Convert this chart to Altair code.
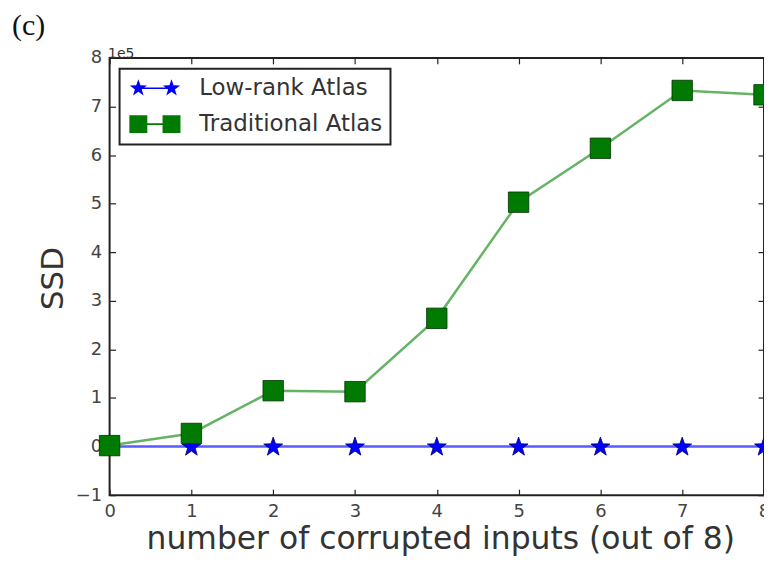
import math
import altair as alt
import pandas as pd

# ---- data ----
x_vals = [0, 1, 2, 3, 4, 5, 6, 7, 8]
low_rank = [0.0, 0.0, 0.0, 0.0, 0.0, 0.0, 0.0, 0.0, 0.0]          # x 1e5
traditional = [0.02, 0.27, 1.15, 1.13, 2.64, 5.03, 6.14, 7.33, 7.24]  # x 1e5
series_names = ["Low-rank Atlas", "Traditional Atlas"]
x_ticks = [0, 1, 2, 3, 4, 5, 6, 7, 8]
y_ticks = [-1, 0, 1, 2, 3, 4, 5, 6, 7, 8]

df = pd.DataFrame({
    "x": x_vals * 2,
    "y": low_rank + traditional,
    "series": [series_names[0]] * len(x_vals) + [series_names[1]] * len(x_vals),
})


# ---- marker glyph shapes ----
def star_path(cx, cy, R=1.0, r=0.4):
    pts = []
    for i in range(10):
        a = -math.pi / 2 + i * math.pi / 5
        rad = R if i % 2 == 0 else r
        pts.append((cx + rad * math.cos(a), cy + rad * math.sin(a)))
    s = "M%.3f,%.3f" % pts[0]
    for p in pts[1:]:
        s += "L%.3f,%.3f" % p
    return s + "Z"


def rect_path(x0, y0, x1, y1):
    return "M%.3f,%.3fL%.3f,%.3fL%.3f,%.3fL%.3f,%.3fZ" % (x0, y0, x1, y0, x1, y1, x0, y1)


star_marker = star_path(0, 0.05)
c = 1.85
star_glyph = star_path(-c, 0) + rect_path(-c, -0.09, c, 0.09) + star_path(c, 0)
square_glyph = rect_path(-c - 1, -1, -c + 1, 1) + rect_path(-c, -0.09, c, 0.09) + rect_path(c - 1, -1, c + 1, 1)

xs = alt.Scale(domain=[0, 8], nice=False, zero=False)
ys = alt.Scale(domain=[-1, 8], nice=False, zero=False)

TICK = dict(tickSize=6, offset=-6, tickColor="#222", tickWidth=1.2, domain=False, grid=False)
LBL = dict(labelFont="DejaVu Sans", labelFontSize=18, labelColor="#444")
TTL = dict(titleFont="DejaVu Sans", titleFontWeight="normal", titleColor="#333")

ax_x = alt.Axis(values=x_ticks, format="d", orient="bottom", labelPadding=7, labelFlush=False,
                title="number of corrupted inputs (out of 8)", titleFontSize=31.5,
                titleX=332, titleY=60, titleAnchor="middle", titleAlign="center",
                titleBaseline="alphabetic", **TICK, **LBL, **TTL)
ax_y = alt.Axis(values=y_ticks, format="d", orient="left", labelPadding=8,
                title="SSD", titleFontSize=31, titleX=-62, titleY=221, titleAngle=-90,
                titleAlign="center", titleBaseline="middle", **TICK, **LBL, **TTL)
ax_x_top = alt.Axis(values=x_ticks, orient="top", labels=False, title="1e5", titleFontSize=14,
                    titleX=-2, titleY=-6, titleAlign="left", titleAnchor="start",
                    titleBaseline="alphabetic", **TICK, **TTL)
ax_y_right = alt.Axis(values=y_ticks, orient="right", labels=False, title=None, **TICK)

base = alt.Chart(df)
low = base.transform_filter(alt.datum.series == series_names[0])
trad = base.transform_filter(alt.datum.series == series_names[1])

blue_line = low.mark_line(color="#0000ff", strokeWidth=2.5, opacity=0.65).encode(
    x=alt.X("x:Q", scale=xs, axis=ax_x),
    y=alt.Y("y:Q", scale=ys, axis=ax_y),
)
blue_pts = low.mark_point(shape=star_marker, filled=True, size=400, color="#0000ff", opacity=1,
                          stroke="#000066", strokeWidth=0.8).encode(
    x=alt.X("x:Q", scale=xs, axis=None),
    y=alt.Y("y:Q", scale=ys, axis=None),
)
green_line = trad.mark_line(color="#008000", strokeWidth=2.5, opacity=0.6).encode(
    x=alt.X("x:Q", scale=xs, axis=ax_x_top),
    y=alt.Y("y:Q", scale=ys, axis=ax_y_right),
)
green_pts = trad.mark_point(shape="square", filled=True, size=420, color="#007a00", opacity=1,
                            stroke="#003300", strokeWidth=0.8).encode(
    x=alt.X("x:Q", scale=xs, axis=None),
    y=alt.Y("y:Q", scale=ys, axis=None),
)
legend_layer = base.transform_filter(alt.datum.x < -100).mark_point(
    filled=True, size=324, opacity=1).encode(
    color=alt.Color("series:N", scale=alt.Scale(domain=series_names, range=["#0000ff", "#007a00"]),
                    legend=alt.Legend(title=None)),
    shape=alt.Shape("series:N", scale=alt.Scale(domain=series_names, range=[star_glyph, square_glyph]),
                    legend=alt.Legend(title=None)),
)

chart = alt.layer(blue_line, blue_pts, green_line, green_pts, legend_layer).resolve_axis(
    x="independent", y="independent"
).properties(
    width=657, height=439,
    autosize=alt.AutoSizeParams(type="none"),
    padding={"left": 102, "top": 49, "right": 0, "bottom": 62},
    title=alt.TitleParams("(c)", anchor="start", frame="group", font="Liberation Serif",
                          fontSize=30, fontWeight="normal", color="#111", dx=-98, dy=-2),
).configure_view(
    stroke="#222", strokeWidth=2
).configure_legend(
    orient="none", legendX=10, legendY=11, fillColor="white", strokeColor="#222",
    strokeWidth=2, padding=8, labelFont="DejaVu Sans", labelFontSize=23, labelColor="#333",
    labelLimit=0, symbolOffset=16, labelOffset=33, rowPadding=12, symbolStrokeWidth=0,
    symbolSize=324, cornerRadius=0,
)

chart.save("out.html", embed_options={"renderer": "svg", "actions": False})
